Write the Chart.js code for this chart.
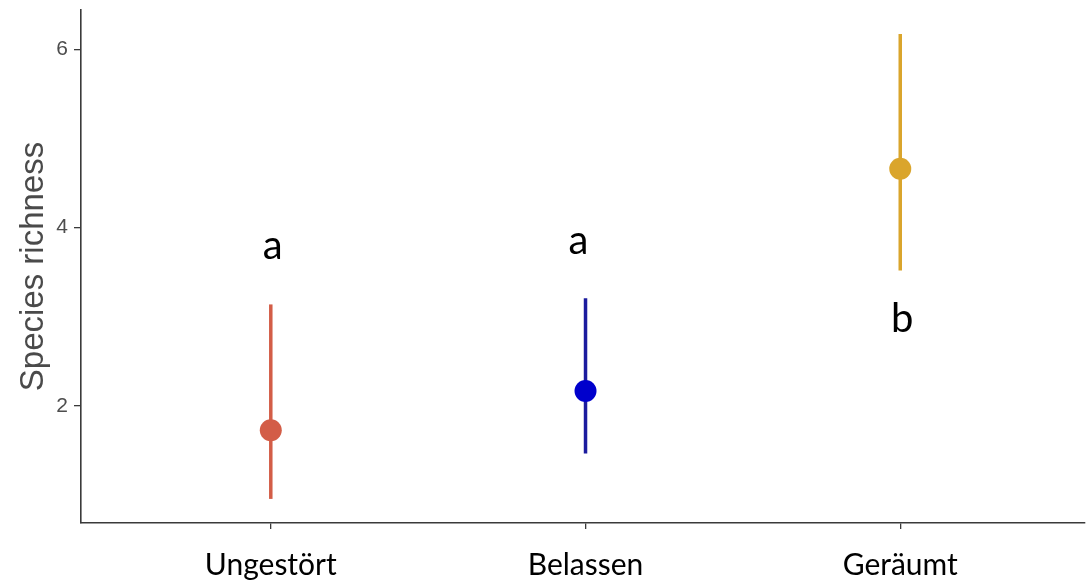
<!DOCTYPE html>
<html>
<head>
<meta charset="utf-8">
<script src="https://cdn.jsdelivr.net/npm/chart.js@4.4.1/dist/chart.umd.min.js"></script>
<style>
  html, body { margin: 0; padding: 0; background: #ffffff; }
  #wrap { width: 1090px; height: 581px; position: relative; }
</style>
</head>
<body>
<div id="wrap"><canvas id="chart" width="1090" height="581"></canvas></div>
<script>
// Treatments and model estimates of species richness
const categories = ['Ungestört', 'Belassen', 'Geräumt'];
const estimates = [1.73, 2.17, 4.66];
const lowerCI = [0.96, 1.47, 3.52];
const upperCI = [3.14, 3.21, 6.17];
const groupLetters = ['a', 'a', 'b'];
const letterLevels = [3.65, 3.71, 2.83];
const yTickValues = [2, 4, 6];

const lineColors = ['#D35D47', '#1C1C9E', '#DAA52C'];
const pointColors = ['#D35D47', '#0000CC', '#DAA52C'];

const datasets = [];
categories.forEach((name, i) => {
  datasets.push({
    type: 'line',
    label: name + ' CI',
    data: [{ x: i + 1, y: lowerCI[i] }, { x: i + 1, y: upperCI[i] }],
    borderColor: lineColors[i],
    borderWidth: 3.5,
    pointRadius: 0,
    fill: false,
    order: 2
  });
});
categories.forEach((name, i) => {
  datasets.push({
    type: 'scatter',
    label: name,
    data: [{ x: i + 1, y: estimates[i] }],
    backgroundColor: pointColors[i],
    borderColor: pointColors[i],
    borderWidth: 0,
    pointStyle: 'circle',
    pointRadius: 11,
    order: 1
  });
});

// Significance letters placed above/below each estimate
const letterPlugin = {
  id: 'groupLetters',
  afterDatasetsDraw(chart) {
    const { ctx, scales: { x, y } } = chart;
    ctx.save();
    ctx.font = '40px Lato';
    ctx.fillStyle = '#000000';
    ctx.textAlign = 'center';
    ctx.textBaseline = 'alphabetic';
    const shift = [2, -7, 2];
    groupLetters.forEach((t, i) => {
      ctx.fillText(t, x.getPixelForValue(i + 1) + shift[i], y.getPixelForValue(letterLevels[i]));
    });
    ctx.restore();
  }
};

new Chart(document.getElementById('chart'), {
  type: 'scatter',
  data: { datasets },
  options: {
    responsive: false,
    animation: false,
    layout: { autoPadding: false, padding: { top: 10, right: 5, left: 0, bottom: 0 } },
    plugins: {
      legend: { display: false },
      tooltip: { enabled: false }
    },
    scales: {
      x: {
        type: 'linear',
        min: 0.397,
        max: 3.587,
        afterBuildTicks(scale) {
          scale.ticks = categories.map((c, i) => ({ value: i + 1 }));
        },
        afterFit(scale) {
          scale.height = 58;
          scale.paddingLeft = 0;
          scale.paddingRight = 0;
        },
        ticks: {
          callback: (v) => categories[Math.round(v) - 1] || '',
          font: { family: 'Lato', size: 30 },
          color: '#000000',
          padding: 18,
          maxRotation: 0,
          autoSkip: false
        },
        grid: {
          display: true,
          drawOnChartArea: false,
          drawTicks: true,
          tickLength: 6,
          color: '#3a3a3a',
          lineWidth: 1.3
        },
        border: { display: true, color: '#3a3a3a', width: 1.6 }
      },
      y: {
        type: 'linear',
        min: 0.69,
        max: 6.44,
        afterBuildTicks(scale) {
          scale.ticks = yTickValues.map(v => ({ value: v }));
        },
        afterFit(scale) {
          scale.width = 81;
          scale.paddingTop = 0;
          scale.paddingBottom = 0;
        },
        ticks: {
          font: { family: 'Liberation Sans', size: 21 },
          color: '#4d4d4d',
          padding: 6
        },
        title: {
          display: true,
          text: 'Species richness',
          font: { family: 'Liberation Sans', size: 33 },
          color: '#4a4a4a',
          padding: { top: 14, bottom: 0 }
        },
        grid: {
          display: true,
          drawOnChartArea: false,
          drawTicks: true,
          tickLength: 7,
          color: '#3a3a3a',
          lineWidth: 1.3
        },
        border: { display: true, color: '#3a3a3a', width: 1.6 }
      }
    }
  },
  plugins: [letterPlugin]
});
</script>
</body>
</html>
